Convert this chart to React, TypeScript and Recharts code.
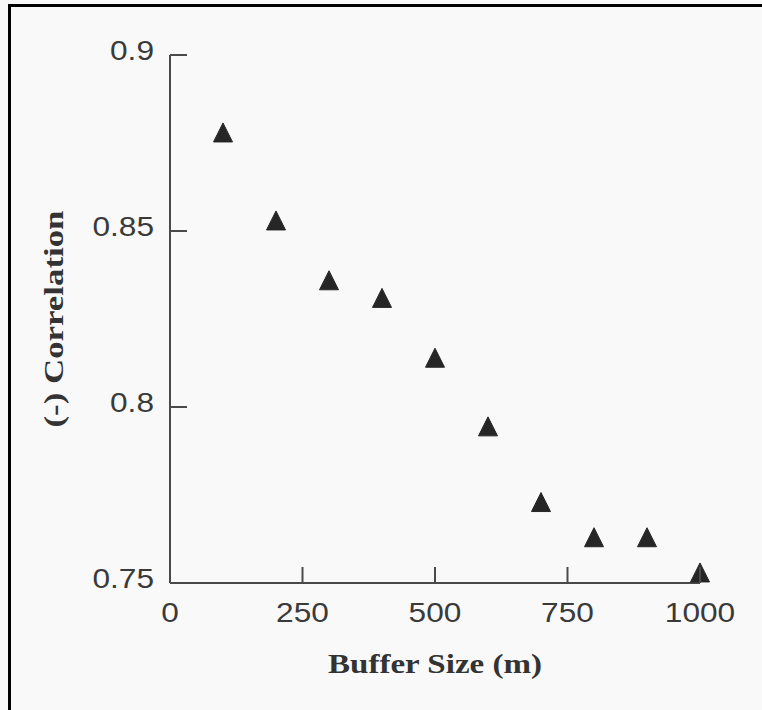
import { ScatterChart, Scatter, XAxis, YAxis, Label } from 'recharts'

const bufferSizes = [100, 200, 300, 400, 500, 600, 700, 800, 900, 1000]
const correlations = [0.878, 0.853, 0.836, 0.831, 0.814, 0.7945, 0.773, 0.763, 0.763, 0.753]
const xTicks = [0, 250, 500, 750, 1000]
const yTicks = [0.75, 0.8, 0.85, 0.9]

const points = bufferSizes.map((b, i) => ({ size: b, corr: correlations[i] }))

const AXIS = '#4a4a4a'
const INK = '#3a3a3a'
const sans = '"Liberation Sans", Arial, sans-serif'
const serif = '"Liberation Serif", "Times New Roman", serif'

function YTick(props: any) {
  const { x, y, payload } = props
  return (
    <g>
      <line x1={x} x2={x + 17} y1={y} y2={y} stroke={AXIS} strokeWidth={2} />
      <g transform={`translate(${x - 16},${y - 5}) scale(1.13,1)`}>
        <text x={0} y={0} dy="0.36em" textAnchor="end" fontFamily={sans} fontSize={28} fill={INK}>
          {String(payload.value)}
        </text>
      </g>
    </g>
  )
}

function XTick(props: any) {
  const { x, y, payload } = props
  return (
    <g>
      <line x1={x} x2={x} y1={y} y2={y - 16} stroke={AXIS} strokeWidth={2} />
      <g transform={`translate(${x},${y + 39}) scale(1.13,1)`}>
        <text x={0} y={0} textAnchor="middle" fontFamily={sans} fontSize={28} fill={INK}>
          {String(payload.value)}
        </text>
      </g>
    </g>
  )
}

function Triangle(props: any) {
  const { cx, cy } = props
  const h = 9.5
  return (
    <polygon
      points={`${cx},${cy - h} ${cx - h},${cy + h} ${cx + h},${cy + h}`}
      fill="#262626"
      stroke="#262626"
      strokeWidth={1}
      strokeLinejoin="round"
    />
  )
}

export default function App() {
  return (
    <div
      style={{
        position: 'absolute',
        left: 0,
        top: 0,
        width: 762,
        height: 710,
        background: '#f9f9f9',
        overflow: 'hidden',
      }}
    >
      <div
        style={{
          position: 'absolute',
          left: 8,
          top: 4,
          right: -10,
          bottom: -10,
          borderTop: '3px solid #000',
          borderLeft: '3px solid #000',
        }}
      />
      <ScatterChart
        width={762}
        height={710}
        margin={{ top: 55, right: 62, bottom: 0, left: 0 }}
        style={{ position: 'absolute', left: 0, top: 0 }}
      >
        <XAxis
          type="number"
          dataKey="size"
          domain={[0, 1000]}
          ticks={xTicks}
          height={127}
          tickSize={0}
          tickMargin={0}
          tick={<XTick />}
          tickLine={false}
          axisLine={{ stroke: AXIS, strokeWidth: 2 }}
        >
          <Label
            content={(p: any) => {
              const vb = p.viewBox
              return (
                <text
                  x={vb.x + vb.width / 2}
                  y={vb.y + 90}
                  textAnchor="middle"
                  fontFamily={serif}
                  fontWeight="bold"
                  fontSize={27}
                  fill="#333"
                  textLength={214}
                  lengthAdjust="spacingAndGlyphs"
                >
                  Buffer Size (m)
                </text>
              )
            }}
          />
        </XAxis>
        <YAxis
          type="number"
          dataKey="corr"
          domain={[0.75, 0.9]}
          ticks={yTicks}
          width={170}
          tickSize={0}
          tickMargin={0}
          tick={<YTick />}
          tickLine={false}
          axisLine={{ stroke: AXIS, strokeWidth: 2 }}
        >
          <Label
            content={(p: any) => {
              const vb = p.viewBox
              const cy = vb.y + vb.height / 2
              return (
                <text
                  x={63}
                  y={cy}
                  transform={`rotate(-90, 63, ${cy})`}
                  textAnchor="middle"
                  fontFamily={serif}
                  fontWeight="bold"
                  fontSize={27}
                  fill="#333"
                  textLength={217}
                  lengthAdjust="spacingAndGlyphs"
                >
                  (-) Correlation
                </text>
              )
            }}
          />
        </YAxis>
        <Scatter data={points} shape={<Triangle />} isAnimationActive={false} />
      </ScatterChart>
    </div>
  )
}
